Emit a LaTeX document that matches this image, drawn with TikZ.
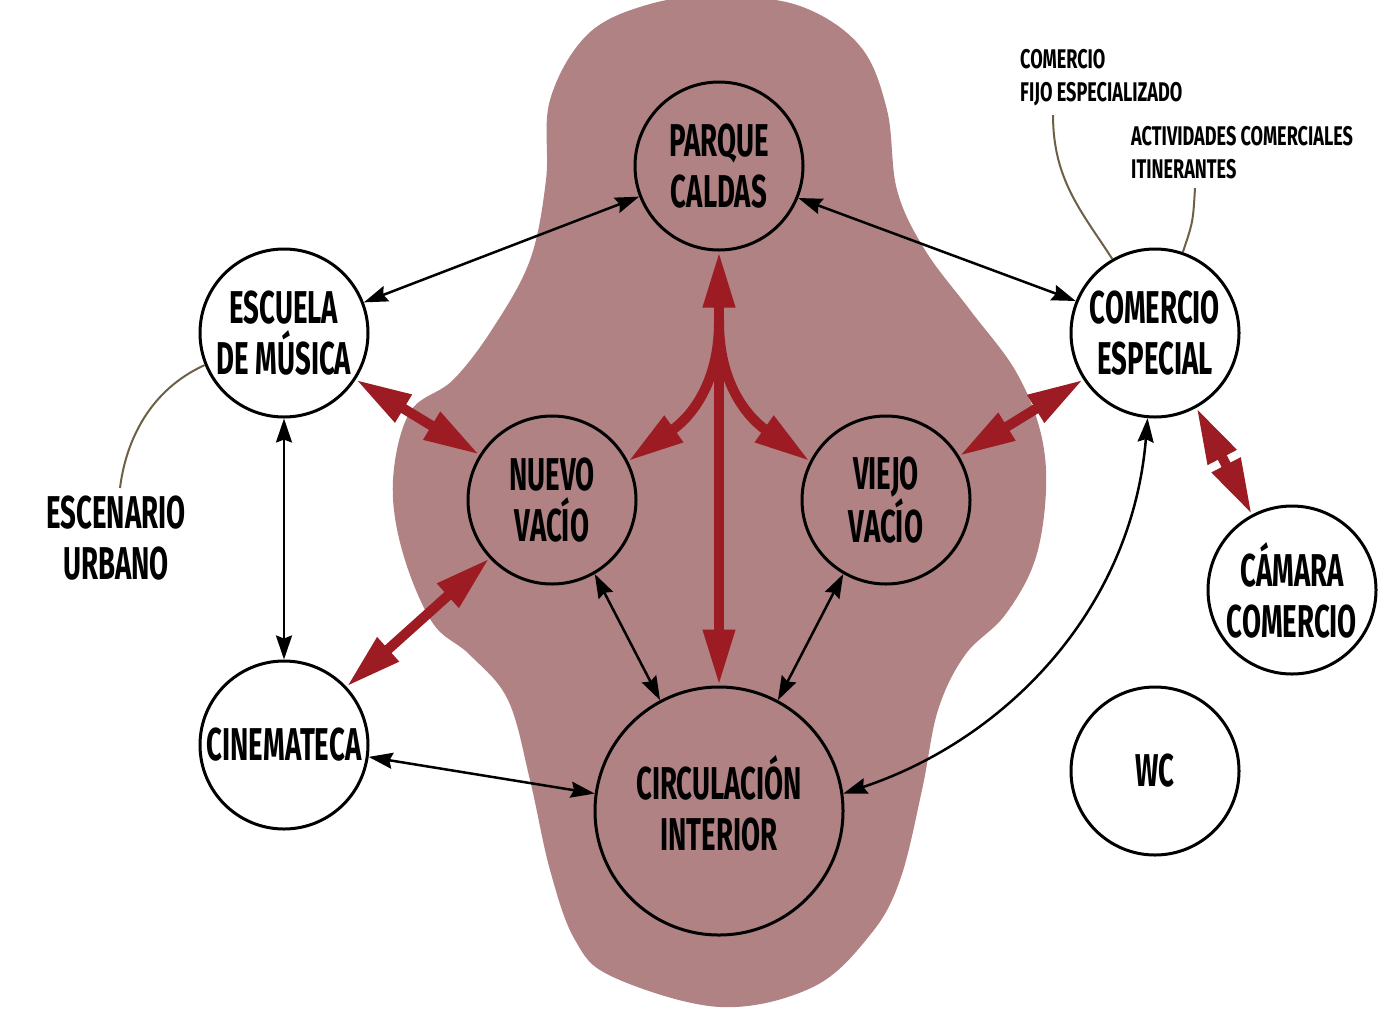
\documentclass[tikz,border=0pt]{standalone}
\usepackage{fontspec}
\usetikzlibrary{arrows.meta}
\newfontfamily\lblfam{Fira Sans}[FakeStretch=0.6]
\newfontfamily\notefam{Fira Sans}[FakeStretch=0.67]
\newcommand\mainlbl{\lblfam\bfseries\fontsize{46}{51}\selectfont}
\newcommand\smalllbl{\notefam\bfseries\fontsize{27}{33}\selectfont}
\definecolor{blobc}{RGB}{176,130,131}
\definecolor{redc}{RGB}{157,27,34}
\definecolor{leadc}{RGB}{110,96,70}
\tikzset{
  place/.style={circle, draw=black, line width=3pt, minimum size=168pt, inner sep=0pt, align=center, font=\mainlbl},
  outer/.style={place, fill=white},
  conn/.style={line width=2.5pt, {Stealth[length=24pt,width=16pt,inset=3pt]}-{Stealth[length=24pt,width=16pt,inset=3pt]}},
  redarr/.style={draw=redc, line width=10pt, {Triangle[length=56pt,width=30pt]}-{Triangle[length=56pt,width=30pt]}},
  redone/.style={draw=redc, line width=10pt, -{Triangle[length=56pt,width=30pt]}},
  leader/.style={draw=leadc, line width=2pt},
  note/.style={font=\smalllbl, align=left, inner sep=0pt, anchor=north west},
}
\begin{document}
\begin{tikzpicture}[x=1pt,y=-1pt]
\path[use as bounding box, fill=white] (0,0) rectangle (1399,1034);
% blob
\fill[blobc] plot[smooth cycle, tension=0.6] coordinates {
 (720,-4) (800,6) (860,46) (887,110) (897,190) (925,250) (970,310) (1015,370)
 (1040,430) (1046,490) (1035,560) (1005,615) (965,655) (938,710) (922,790)
 (900,880) (870,935) (813,987) (720,1007) (613,977) (575,940) (550,870)
 (530,780) (508,700) (470,655) (432,622) (402,550) (393,480) (410,412)
 (453,380) (493,328) (530,260) (546,180) (550,100) (588,34) (650,4)};
% nodes
\node[place] (par) at (719,166) {PARQUE\\CALDAS};
\node[outer] (esc) at (284,333) {ESCUELA\\DE MÚSICA};
\node[outer] (com) at (1155,333) {COMERCIO\\ESPECIAL};
\node[place] (nue) at (552,500) {NUEVO\\VACÍO};
\node[place] (vie) at (886,500) {VIEJO\\VACÍO};
\node[outer] (cin) at (284,745) {CINEMATECA};
\node[place, minimum size=248pt, text depth=16pt] (cir) at (719,811) {CIRCULACIÓN\\INTERIOR};
\node[outer] (cam) at (1292,590) {CÁMARA\\COMERCIO};
\node[outer] (wc) at (1155,771) {WC};
\node[font=\mainlbl, align=center, inner sep=0pt] (esce) at (116,538) {ESCENARIO\\URBANO};
\node[note] (fijo) at (1020,49) {COMERCIO\\FIJO ESPECIALIZADO};
\node[note] (itin) at (1131,126) {ACTIVIDADES COMERCIALES\\ITINERANTES};
% leader lines
\coordinate (escEnd) at (120,488);
\coordinate (fijoEnd) at (1053,115);
\coordinate (itinEnd) at (1195,188);
\draw[leader] (esc.202) .. controls (150,390) and (126,440) .. (escEnd);
\draw[leader] (fijoEnd) .. controls (1053,180) and (1082,212) .. (com.120);
\draw[leader] (itinEnd) .. controls (1193,222) .. (com.71);
% black connectors
\draw[conn] (esc.21) -- (par.201);
\draw[conn] (par.-22) -- (com.158);
\draw[conn] (esc.south) -- (cin.north);
\draw[conn] (cin.-8) -- (cir.172);
\draw[conn] (nue.-60) -- (cir.118);
\draw[conn] (vie.240) -- (cir.62);
\draw[conn] (com.265) .. controls (1132,610) and (1005,740) .. (cir.8);
% red connectors
\draw[redarr] (esc.-33) -- (nue.148);
\draw[redarr] (com.213) -- (vie.31);
\draw[redarr] (nue.223) -- (cin.43);
\draw[redarr] (com.-61) -- (cam.118);
\draw[redarr] (par.south) -- (cir.north);
\coordinate (fork) at (719,322);
\draw[redone] (fork) .. controls (719,382) and (692,416) .. (nue.27);
\draw[redone] (fork) .. controls (719,382) and (746,416) .. (vie.153);
\end{tikzpicture}
\end{document}
